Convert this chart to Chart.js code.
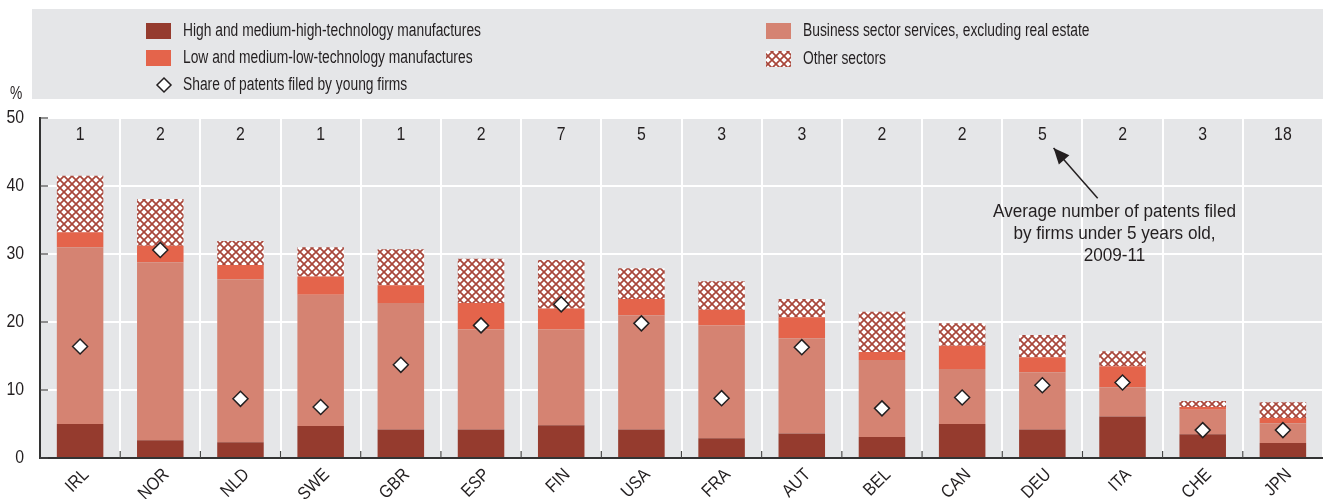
<!DOCTYPE html>
<html>
<head>
<meta charset="utf-8">
<script src="https://cdn.jsdelivr.net/npm/chart.js@4"></script>
<style>
  html, body { margin: 0; padding: 0; background: #fff; overflow: hidden; }
  #wrap { position: relative; width: 1323px; height: 499px; }
</style>
</head>
<body>
<div id="wrap"><canvas id="patentChart"></canvas></div>
<script>
const countries = ['IRL', 'NOR', 'NLD', 'SWE', 'GBR', 'ESP', 'FIN', 'USA', 'FRA', 'AUT', 'BEL', 'CAN', 'DEU', 'ITA', 'CHE', 'JPN'];
const highTech = [5.0, 2.6, 2.3, 4.7, 4.2, 4.2, 4.8, 4.2, 2.9, 3.6, 3.1, 5.0, 4.2, 6.1, 3.5, 2.2];
const businessServices = [26.0, 26.2, 24.0, 19.3, 18.6, 14.7, 14.1, 16.8, 16.6, 14.0, 11.3, 8.1, 8.4, 4.3, 3.6, 2.9];
const lowTech = [2.2, 2.4, 2.1, 2.7, 2.6, 3.9, 3.1, 2.4, 2.3, 3.1, 1.2, 3.4, 2.2, 3.1, 0.4, 0.8];
const otherSectors = [8.3, 6.9, 3.5, 4.3, 5.3, 6.5, 7.1, 4.5, 4.2, 2.7, 5.9, 3.3, 3.3, 2.2, 0.9, 2.3];
const youngShare = [16.4, 30.6, 8.7, 7.5, 13.7, 19.5, 22.6, 19.8, 8.8, 16.3, 7.3, 8.9, 10.7, 11.1, 4.1, 4.1];
const avgPatents = ['1', '2', '2', '1', '1', '2', '7', '5', '3', '3', '2', '2', '5', '2', '3', '18'];
const yTicks = [0, 10, 20, 30, 40, 50];
const noteLines = ['Average number of patents filed', 'by firms under 5 years old,', '2009-11'];

const FAMILY = '"Liberation Sans", Arial, sans-serif';
const TXT = '#231f20';
const C_HIGH = '#953b2e';
const C_LOW = '#e4644b';
const C_BUS = '#d58372';
const C_HATCH = '#a8463a';
const BG = '#e5e6e8';

function makeHatch(size) {
    const c = document.createElement('canvas');
    c.width = size; c.height = size;
    const g = c.getContext('2d');
    g.fillStyle = '#fff';
    g.fillRect(0, 0, size, size);
    g.strokeStyle = C_HATCH;
    g.lineWidth = 1.7;
    g.beginPath();
    g.moveTo(-1, -1); g.lineTo(size + 1, size + 1);
    g.moveTo(size + 1, -1); g.lineTo(-1, size + 1);
    g.stroke();
    return g.createPattern(c, 'repeat');
}
const hatch = makeHatch(8);

// the source uses a condensed face: squeeze a regular one to the widths in the picture
function fitSqueeze(size, str, target, fallback) {
    const g = document.createElement('canvas').getContext('2d');
    g.font = size + 'px ' + FAMILY;
    const w = g.measureText(str).width;
    return w > 0 ? target / w : fallback;
}
const legendStyle = { size: 18, sx: fitSqueeze(18, 'High and medium-high-technology manufactures', 298, 0.78) };
const noteStyle = { size: 18, sx: fitSqueeze(18, noteLines[0], 243, 0.85) };
const axisStyle = { size: 18, sx: 0.88 };

function text(ctx, str, x, y, st, align, rot) {
    ctx.save();
    ctx.translate(x, y);
    if (rot) ctx.rotate(rot);
    ctx.scale(st.sx, 1);
    ctx.font = st.size + 'px ' + FAMILY;
    ctx.fillStyle = TXT;
    ctx.textAlign = align || 'left';
    ctx.textBaseline = 'middle';
    ctx.fillText(str, 0, 0);
    ctx.restore();
}

const decor = {
    id: 'decor',
    beforeDraw(chart) {
        const ctx = chart.ctx;
        const a = chart.chartArea;
        ctx.save();
        ctx.fillStyle = BG;
        ctx.fillRect(a.left, a.top, a.right - a.left, a.bottom - a.top);
        ctx.fillRect(32, 9, chart.width - 32, 90);

        const items = [
            [146, 31, C_HIGH, 'High and medium-high-technology manufactures'],
            [146, 58, C_LOW, 'Low and medium-low-technology manufactures'],
            [766, 31, C_BUS, 'Business sector services, excluding real estate'],
            [766, 59, hatch, 'Other sectors']
        ];
        items.forEach(([x, y, col, label]) => {
            ctx.fillStyle = col;
            ctx.fillRect(x, y - 8, 25, 16);
            text(ctx, label, x + 37, y, legendStyle);
        });
        ctx.beginPath();
        ctx.moveTo(164, 78); ctx.lineTo(171, 85); ctx.lineTo(164, 92); ctx.lineTo(157, 85);
        ctx.closePath();
        ctx.fillStyle = '#fff';
        ctx.fill();
        ctx.strokeStyle = TXT;
        ctx.lineWidth = 1.5;
        ctx.stroke();
        text(ctx, 'Share of patents filed by young firms', 183, 85, legendStyle);
        text(ctx, '%', 10, 94, legendStyle);
        ctx.restore();
    },
    afterDatasetsDraw(chart) {
        const ctx = chart.ctx;
        const a = chart.chartArea;
        const xs = chart.scales.x;
        const ys = chart.scales.y;
        ctx.save();
        ctx.strokeStyle = '#444';
        ctx.lineWidth = 1.2;
        for (let i = 1; i < countries.length; i++) {
            const x = (xs.getPixelForValue(i - 1) + xs.getPixelForValue(i)) / 2;
            ctx.beginPath();
            ctx.moveTo(x, a.bottom);
            ctx.lineTo(x, a.bottom - 7);
            ctx.stroke();
        }
        yTicks.forEach(v => {
            const y = Math.round(ys.getPixelForValue(v));
            ctx.beginPath();
            ctx.moveTo(a.left, y);
            ctx.lineTo(a.left + 8, y);
            ctx.stroke();
        });

        yTicks.forEach(v => text(ctx, String(v), 24, ys.getPixelForValue(v), axisStyle, 'right'));
        countries.forEach((c, i) => text(ctx, c, xs.getPixelForValue(i) + 6, a.bottom + 14, axisStyle, 'right', -Math.PI / 4));
        avgPatents.forEach((v, i) => text(ctx, v, xs.getPixelForValue(i), ys.getPixelForValue(47.5), axisStyle, 'center'));

        // annotation
        const tx = xs.getPixelForValue(12.9);
        [36.2, 33.0, 29.7].forEach((v, k) => text(ctx, noteLines[k], tx, ys.getPixelForValue(v), noteStyle, 'center'));

        const x0 = xs.getPixelForValue(12.69), y0 = ys.getPixelForValue(38.2);
        const x1 = xs.getPixelForValue(12.14), y1 = ys.getPixelForValue(45.6);
        ctx.strokeStyle = TXT;
        ctx.lineWidth = 1.5;
        ctx.beginPath();
        ctx.moveTo(x0, y0);
        ctx.lineTo(x1, y1);
        ctx.stroke();
        const ang = Math.atan2(y1 - y0, x1 - x0);
        const L = 16, W = 7;
        ctx.beginPath();
        ctx.moveTo(x1, y1);
        ctx.lineTo(x1 - L * Math.cos(ang) + W * Math.sin(ang), y1 - L * Math.sin(ang) - W * Math.cos(ang));
        ctx.lineTo(x1 - L * Math.cos(ang) - W * Math.sin(ang), y1 - L * Math.sin(ang) + W * Math.cos(ang));
        ctx.closePath();
        ctx.fillStyle = TXT;
        ctx.fill();
        ctx.restore();
    }
};

const ctx = document.getElementById('patentChart').getContext('2d');
const barOpts = { barPercentage: 0.58, categoryPercentage: 1.0, borderWidth: 0, stack: 'sectors', order: 1 };

new Chart(ctx, {
    type: 'bar',
    data: {
        labels: countries,
        datasets: [
            Object.assign({ label: 'High and medium-high-technology manufactures', data: highTech, backgroundColor: C_HIGH }, barOpts),
            Object.assign({ label: 'Business sector services, excluding real estate', data: businessServices, backgroundColor: C_BUS }, barOpts),
            Object.assign({ label: 'Low and medium-low-technology manufactures', data: lowTech, backgroundColor: C_LOW }, barOpts),
            Object.assign({ label: 'Other sectors', data: otherSectors, backgroundColor: hatch }, barOpts),
            {
                type: 'line',
                label: 'Share of patents filed by young firms',
                data: youngShare,
                stack: 'share',
                order: 0,
                showLine: false,
                pointStyle: 'rectRot',
                pointRadius: 7.5,
                pointBackgroundColor: '#fff',
                pointBorderColor: TXT,
                pointBorderWidth: 1.5
            }
        ]
    },
    options: {
        responsive: true,
        maintainAspectRatio: false,
        animation: false,
        layout: { autoPadding: false, padding: { top: 118, left: 0, right: 0, bottom: 0 } },
        plugins: {
            legend: { display: false },
            tooltip: { enabled: false }
        },
        scales: {
            x: {
                stacked: true,
                offset: true,
                grid: { color: '#fff', lineWidth: 2, offset: true, drawTicks: false },
                border: { display: true, color: '#333', width: 2 },
                ticks: { display: false },
                afterFit(scale) { scale.height = 41; }
            },
            y: {
                stacked: true,
                min: 0,
                max: 50,
                afterBuildTicks(scale) { scale.ticks = yTicks.map(v => ({ value: v })); },
                grid: { color: '#fff', lineWidth: 2, drawTicks: false },
                border: { display: true, color: '#333', width: 2 },
                ticks: { display: false },
                afterFit(scale) { scale.width = 40; }
            }
        }
    },
    plugins: [decor]
});
</script>
</body>
</html>
